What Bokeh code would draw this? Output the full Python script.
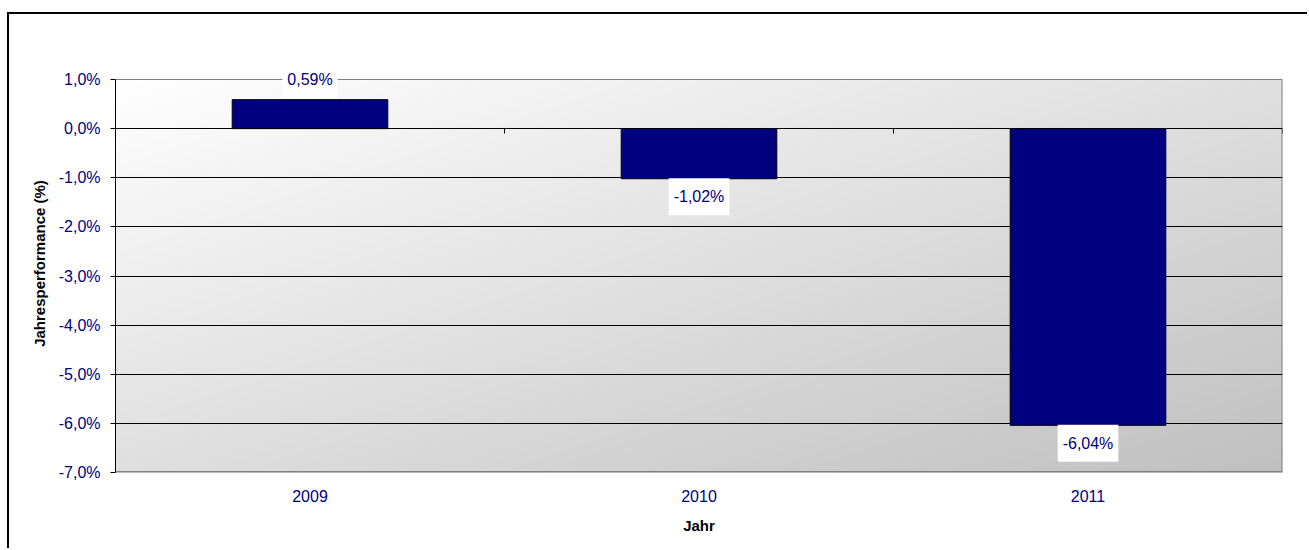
import numpy as np
from bokeh.plotting import figure
from bokeh.models import ColumnDataSource, FixedTicker, Range1d, Label
from bokeh.embed import file_html
from bokeh.resources import INLINE

# ---- data ----
years = ["2009", "2010", "2011"]
performance = [0.59, -1.02, -6.04]
y_ticks = [1, 0, -1, -2, -3, -4, -5, -6, -7]

NAVY = "#000080"
FONT = "Liberation Sans"
FRAME_H = 393          # pixel height of the real plot area
EXTRA = 25             # white space above the plot area kept inside the frame (for labels)

ymin, ymax = min(y_ticks), max(y_ticks)
ppu = FRAME_H / (ymax - ymin)
y_top = ymax + EXTRA / ppu

idx = list(range(len(years)))
xmin, xmax = -0.5, len(years) - 0.5
src = ColumnDataSource(dict(x=idx, top=performance))

p = figure(width=1300, height=536, output_backend="svg", toolbar_location=None,
           x_range=Range1d(xmin, xmax), y_range=Range1d(ymin, y_top),
           min_border_left=106, min_border_right=27, min_border_top=65 - EXTRA,
           min_border_bottom=78,
           styles={"border-left": "2px solid black", "border-top": "2px solid black",
                   "margin-top": "12px", "margin-left": "7px"})
p.background_fill_color = "white"
p.border_fill_color = "white"
p.outline_line_color = None

# gradient plot-area background (diagonal, white -> grey)
H, W = 200, 600
u = np.linspace(0, 1, W)[None, :]
v = np.linspace(1, 0, H)[:, None]  # row 0 is bottom
t = (u + v) / 2.0
g = (255 - t * (255 - 192)).astype(np.uint8)
img = np.empty((H, W), dtype=np.uint32)
view = img.view(dtype=np.uint8).reshape((H, W, 4))
view[:, :, 0] = g
view[:, :, 1] = g
view[:, :, 2] = g
view[:, :, 3] = 255
p.image_rgba(image=[img], x=xmin, y=ymin, dw=xmax - xmin, dh=ymax - ymin, level="image")

# plot-area border (grey) on top, right, bottom
p.segment(x0=[xmin, xmax, xmin], y0=[ymax, ymin, ymin], x1=[xmax, xmax, xmax], y1=[ymax, ymax, ymin],
          line_color="#808080", line_width=[1, 2, 3], level="underlay")

# grid
p.xgrid.visible = False
p.ygrid.ticker = FixedTicker(ticks=[t_ for t_ in y_ticks if t_ not in (ymax, ymin)])
p.ygrid.grid_line_color = "black"
p.ygrid.grid_line_width = 1
p.ygrid.level = "underlay"

# bars
p.vbar(x="x", top="top", bottom=0, width=0.4, source=src,
       fill_color=NAVY, line_color="black", line_width=1)

# category-boundary tick marks on the zero line
bounds = [i + 0.5 for i in idx]
p.segment(x0=bounds, y0=[0] * len(bounds), x1=bounds, y1=[-0.1] * len(bounds),
          line_color="black", line_width=1)

# data labels
for xi, val in zip(idx, performance):
    p.add_layout(Label(x=xi, y=val, text=f"{val:.2f}%".replace(".", ","),
                       y_offset=(20 if val >= 0 else -18),
                       text_align="center", text_baseline="middle",
                       text_font=FONT, text_font_size="16px", text_color=NAVY,
                       background_fill_color="white", background_fill_alpha=1.0,
                       padding=dict(left=5, right=5, top=10, bottom=10)))

# y axis
p.yaxis.ticker = FixedTicker(ticks=y_ticks)
p.yaxis.bounds = (ymin, ymax)
p.yaxis.major_label_overrides = {t_: f"{t_:.1f}%".replace(".", ",") for t_ in y_ticks}
p.yaxis.minor_tick_line_color = None
p.yaxis.major_tick_in = 0
p.yaxis.major_tick_out = 5
p.yaxis.axis_line_color = "black"
p.yaxis.major_label_text_font = FONT
p.yaxis.major_label_text_font_size = "16px"
p.yaxis.major_label_text_color = NAVY
p.yaxis.major_label_standoff = 10
p.yaxis.axis_label = "Jahresperformance (%)"
p.yaxis.axis_label_text_font = FONT
p.yaxis.axis_label_text_font_size = "15px"
p.yaxis.axis_label_text_font_style = "bold"
p.yaxis.axis_label_text_color = "black"
p.yaxis.axis_label_standoff = 8

# x axis
p.xaxis.ticker = FixedTicker(ticks=idx)
p.xaxis.major_label_overrides = {i: y for i, y in enumerate(years)}
p.xaxis.minor_tick_line_color = None
p.xaxis.major_tick_line_color = None
p.xaxis.axis_line_color = None
p.xaxis.major_label_text_font = FONT
p.xaxis.major_label_text_font_size = "16px"
p.xaxis.major_label_text_color = NAVY
p.xaxis.major_label_standoff = 11
p.xaxis.axis_label = "Jahr"
p.xaxis.axis_label_text_font = FONT
p.xaxis.axis_label_text_font_size = "15px"
p.xaxis.axis_label_text_font_style = "bold"
p.xaxis.axis_label_text_color = "black"
p.xaxis.axis_label_standoff = 12

open("out.html", "w").write(file_html(p, INLINE))
